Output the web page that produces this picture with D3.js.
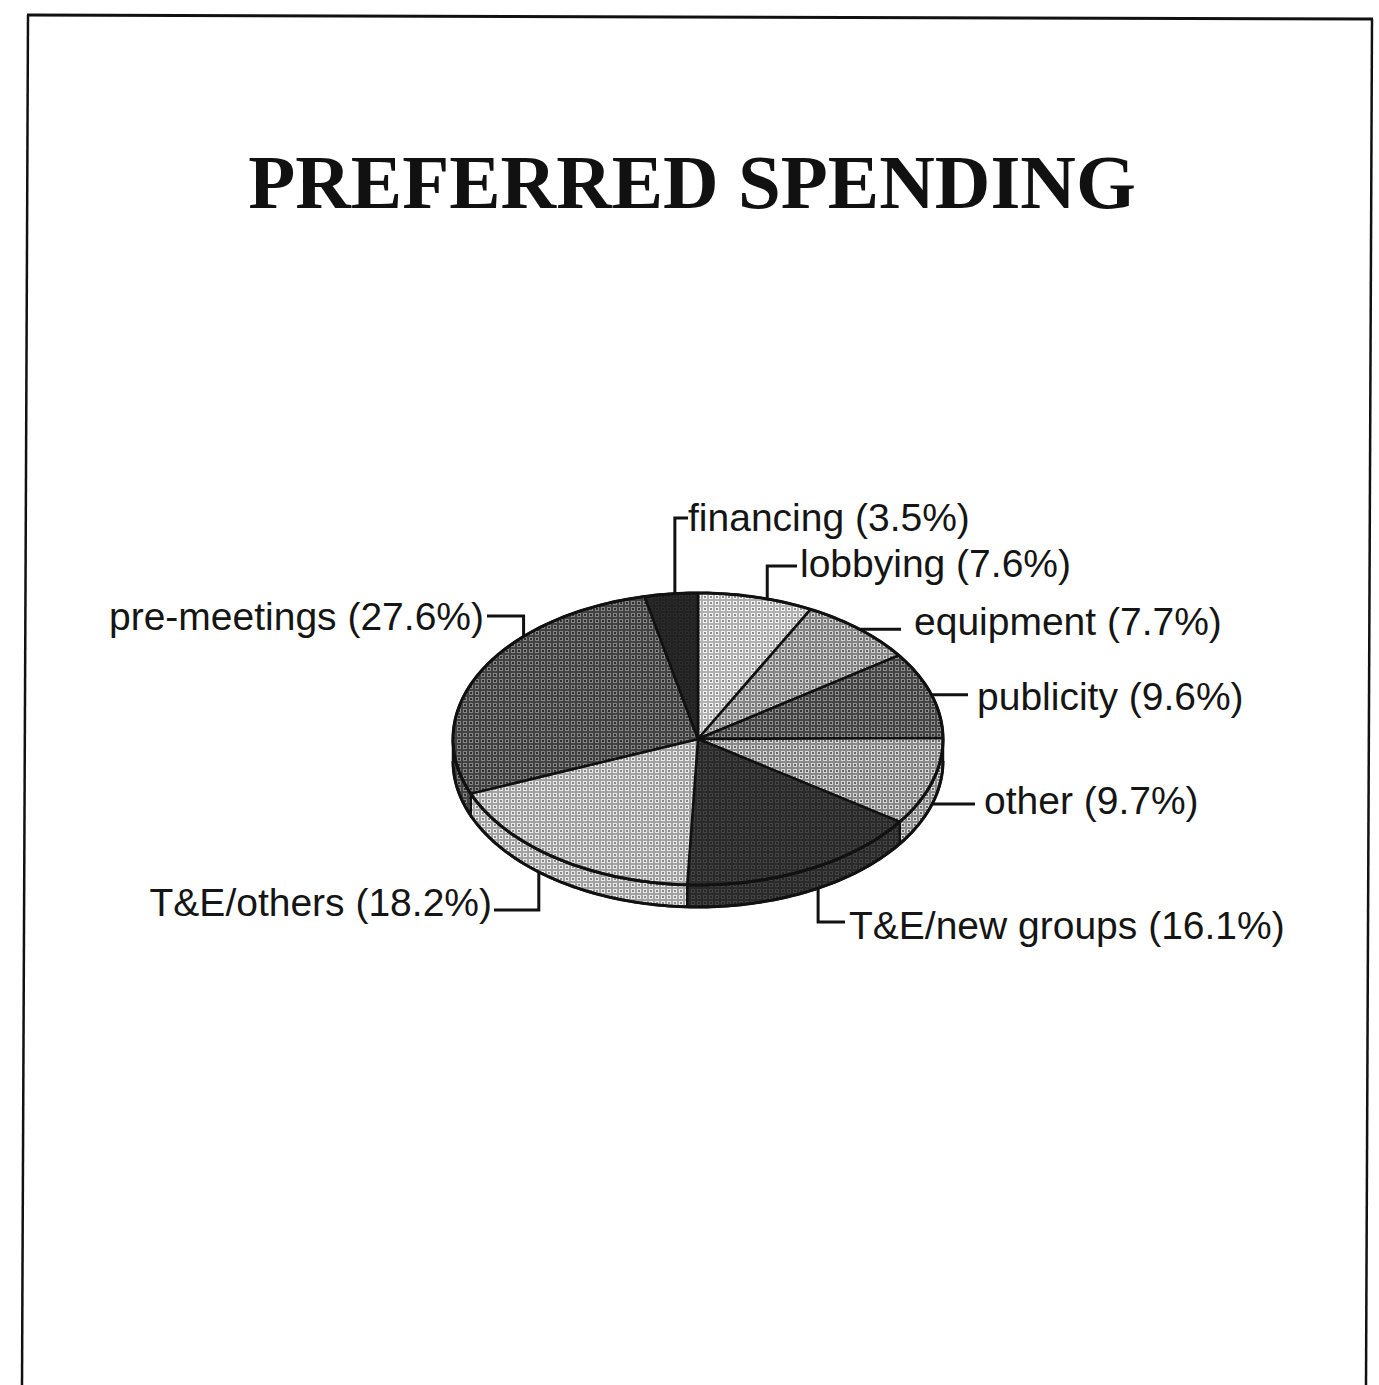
<!DOCTYPE html>
<html>
<head>
<meta charset="utf-8">
<script src="https://cdn.jsdelivr.net/npm/d3@7"></script>
<style>
  html, body { margin: 0; padding: 0; background: #ffffff; }
  svg { display: block; }
</style>
</head>
<body>
<div id="chart"></div>
<script>
// Spending categories, clockwise from 12 o'clock
const categories = ["lobbying", "equipment", "publicity", "other",
                    "T&E/new groups", "T&E/others", "pre-meetings", "financing"];
const shares = [7.6, 7.7, 9.6, 9.7, 16.1, 18.2, 27.6, 3.5];
const labelTexts = categories.map((c, i) => `${c} (${shares[i]}%)`);

// Stipple fills: [grid colour, cell colour, dot colour]
const fills = [
  ["#b0b0b0", "#f4f4f4", "#8a8a8a"],
  ["#848484", "#d2d2d2", "#666666"],
  ["#444444", "#8e8e8e", "#333333"],
  ["#888888", "#d8d8d8", "#666666"],
  ["#2a2a2a", "#444444", "#262626"],
  ["#a2a2a2", "#eaeaea", "#888888"],
  ["#424242", "#868686", "#2e2e2e"],
  ["#222222", "#2c2c2c", "#1e1e1e"]
];

// Leader layout: t = position of the anchor inside the slice (0..1),
// ly = y of the elbow (null = straight), lx = end x of the leader,
// tx/ty = text position, anchor = text-anchor
const labelLayout = [
  { t: 0.60, ly: 566, lx: 797, tx: 800, ty: 577, anchor: "start" },
  { t: 0.50, ly: null, lx: 901, tx: 914, ty: 635, anchor: "start" },
  { t: 0.50, ly: null, lx: 968, tx: 977, ty: 710, anchor: "start" },
  { t: 0.50, ly: null, lx: 975, tx: 984, ty: 814, anchor: "start" },
  { t: 0.45, ly: 922, lx: 845, tx: 849, ty: 939, anchor: "start" },
  { t: 0.58, ly: 910, lx: 494, tx: 492, ty: 916, anchor: "end" },
  { t: 0.67, ly: 616, lx: 487, tx: 484, ty: 630, anchor: "end" },
  { t: 0.57, ly: 518, lx: 688, tx: 688, ty: 531, anchor: "start" }
];

const W = 1379, H = 1385;
const cx = 698, cy = 739, rx = 245, ry = 146, depth = 22;

const svg = d3.select("#chart").append("svg")
  .attr("width", W).attr("height", H);

// Stipple patterns
const defs = svg.append("defs");
fills.forEach((f, i) => {
  const p = defs.append("pattern")
    .attr("id", "stip" + i)
    .attr("patternUnits", "userSpaceOnUse")
    .attr("width", 6).attr("height", 6);
  p.append("rect").attr("width", 6).attr("height", 6).attr("fill", f[0]);
  p.append("rect").attr("x", 1).attr("y", 1).attr("width", 4).attr("height", 4).attr("fill", f[1]);
  p.append("rect").attr("x", 2).attr("y", 2).attr("width", 2).attr("height", 2).attr("fill", f[2]);
});

// Page frame
const frame = svg.append("g").attr("fill", "none").attr("stroke", "#111");
frame.append("line").attr("x1", 27).attr("y1", 15).attr("x2", 1373).attr("y2", 19).attr("stroke-width", 3);
frame.append("line").attr("x1", 28).attr("y1", 15).attr("x2", 22).attr("y2", H).attr("stroke-width", 2.5);
frame.append("line").attr("x1", 1372).attr("y1", 19).attr("x2", 1366).attr("y2", H).attr("stroke-width", 2.5);

// Title
svg.append("text")
  .attr("x", 692).attr("y", 208)
  .attr("text-anchor", "middle")
  .attr("font-family", "'Liberation Serif', 'Times New Roman', serif")
  .attr("font-weight", "bold")
  .attr("font-size", 77)
  .attr("fill", "#111")
  .text("PREFERRED SPENDING");

// Angles from d3.pie (clockwise from top)
const pie = d3.pie().sort(null).startAngle(0).endAngle(2 * Math.PI);
const arcs = pie(shares);

const px = a => cx + rx * Math.sin(a);
const py = (a, dz = 0) => cy - ry * Math.cos(a) + dz;
const line = d3.line();

function arcPoints(a0, a1, dz) {
  const n = Math.max(2, Math.ceil(Math.abs(a1 - a0) / 0.02));
  return d3.range(n + 1).map(k => {
    const a = a0 + (a1 - a0) * k / n;
    return [px(a), py(a, dz)];
  });
}

const pieG = svg.append("g");

// Side walls: only the front half (90°..270°) is visible
const lo = Math.PI / 2, hi = 3 * Math.PI / 2;
arcs.forEach((d, i) => {
  const a0 = Math.max(d.startAngle, lo), a1 = Math.min(d.endAngle, hi);
  if (a1 <= a0) return;
  const pts = arcPoints(a0, a1, 0).concat(arcPoints(a1, a0, depth));
  pieG.append("path")
    .attr("d", line(pts) + "Z")
    .attr("fill", `url(#stip${i})`)
    .attr("stroke", "#111").attr("stroke-width", 2.5)
    .attr("stroke-linejoin", "round");
});

// Top faces
arcs.forEach((d, i) => {
  const pts = [[cx, cy]].concat(arcPoints(d.startAngle, d.endAngle, 0));
  pieG.append("path")
    .attr("d", line(pts) + "Z")
    .attr("fill", `url(#stip${i})`)
    .attr("stroke", "#111").attr("stroke-width", 2.5)
    .attr("stroke-linejoin", "round");
});

// Outer rim
pieG.append("path")
  .attr("d", line(arcPoints(0, 2 * Math.PI, 0)) + "Z")
  .attr("fill", "none").attr("stroke", "#111").attr("stroke-width", 3);
pieG.append("path")
  .attr("d", line(arcPoints(lo, hi, depth)))
  .attr("fill", "none").attr("stroke", "#111").attr("stroke-width", 3);

// Leaders and labels
const labG = svg.append("g");
arcs.forEach((d, i) => {
  const L = labelLayout[i];
  const a = d.startAngle + (d.endAngle - d.startAngle) * L.t;
  const front = Math.cos(a) < 0;
  const ax = px(a), ay = py(a, front ? depth : 0);
  const ly = L.ly == null ? ay : L.ly;
  const pts = [[ax, ay], [ax, ly], [L.lx, ly]];
  labG.append("path")
    .attr("d", line(pts))
    .attr("fill", "none").attr("stroke", "#111").attr("stroke-width", 3);
  labG.append("text")
    .attr("x", L.tx).attr("y", L.ty)
    .attr("text-anchor", L.anchor)
    .attr("font-family", "'Liberation Sans', Arial, Helvetica, sans-serif")
    .attr("font-size", 39)
    .attr("fill", "#151515")
    .text(labelTexts[i]);
});
</script>
</body>
</html>
